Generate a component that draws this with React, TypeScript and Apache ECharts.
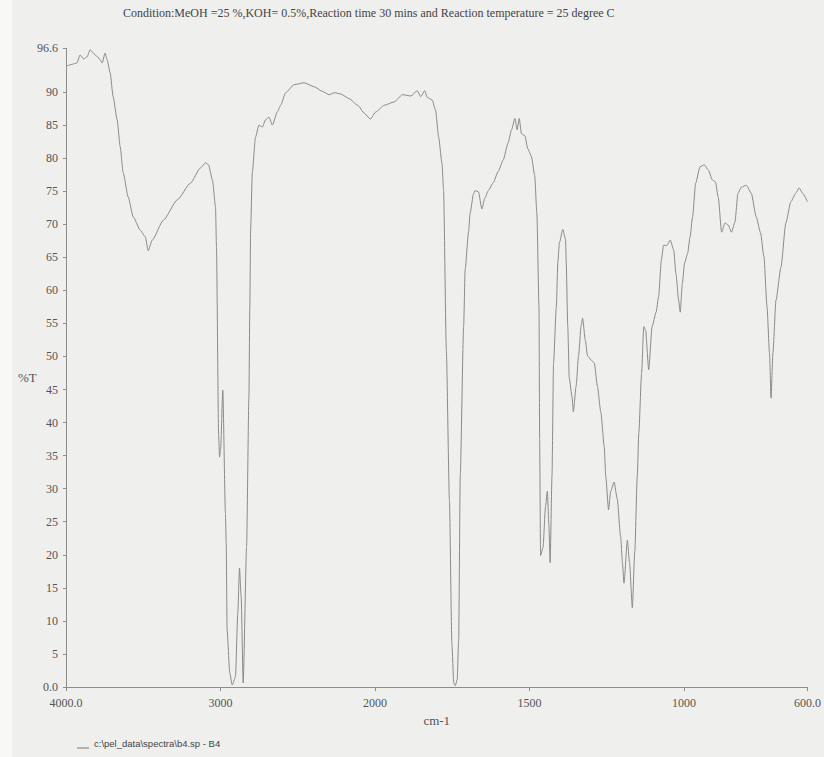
import React, { useEffect, useRef } from "react";
import * as echarts from "echarts";

// Wavenumber (cm-1) of each traced point
const wavenumbers = [
  4000, 3990, 3960, 3929, 3909, 3885, 3864, 3844, 3825, 3799, 3779, 3766, 3747, 3734, 3714, 3695, 3669, 3649, 3630,
  3597, 3565, 3519, 3487, 3468, 3442, 3370, 3279, 3195, 3130, 3097, 3078, 3052, 3032, 3026, 3012, 3006, 2999, 2985,
  2968, 2963, 2957, 2940, 2924, 2903, 2888, 2877, 2866, 2853, 2831, 2816, 2810, 2805, 2794, 2773, 2751, 2729, 2708,
  2686, 2664, 2632, 2610, 2578, 2524, 2459, 2394, 2340, 2297, 2264, 2221, 2167, 2112, 2069, 2030, 1997, 1970, 1938,
  1911, 1884, 1863, 1852, 1839, 1831, 1815, 1804, 1794, 1783, 1778, 1769, 1759, 1751, 1745, 1740, 1734, 1729, 1724,
  1713, 1708, 1697, 1692, 1681, 1676, 1665, 1654, 1644, 1633, 1617, 1601, 1585, 1569, 1558, 1547, 1540, 1533, 1526,
  1515, 1505, 1494, 1483, 1476, 1469, 1467, 1464, 1456, 1448, 1442, 1437, 1433, 1427, 1422, 1413, 1408, 1403, 1392,
  1383, 1381, 1376, 1371, 1362, 1358, 1349, 1341, 1333, 1328, 1319, 1312, 1301, 1290, 1280, 1269, 1258, 1253, 1244,
  1237, 1226, 1216, 1205, 1199, 1194, 1183, 1176, 1167, 1159, 1151, 1146, 1137, 1130, 1124, 1114, 1103, 1090, 1082,
  1073, 1066, 1055, 1044, 1033, 1026, 1017, 1012, 1005, 998, 988, 980, 972, 962, 948, 934, 921, 908, 898, 889, 878,
  867, 857, 846, 835, 825, 814, 798, 782, 766, 752, 741, 731, 723, 718, 712, 702, 686, 670, 654, 638, 627, 616, 600,
];

// Transmittance (%T) at each wavenumber
const transmittance = [
  94.0, 94.0, 94.2, 94.4, 95.6, 95.0, 95.3, 96.4, 95.9, 95.4, 94.9, 94.4, 95.9, 94.9, 92.9, 89.3, 85.8, 81.7, 77.8,
  74.1, 71.1, 69.1, 68.1, 66.0, 67.6, 70.6, 73.7, 76.2, 78.5, 79.3, 79.0, 76.7, 72.6, 66.6, 38.0, 34.8, 36.0, 44.9,
  26.3, 21.8, 8.6, 2.1, 0.3, 1.5, 11.2, 18.0, 13.6, 0.6, 21.2, 43.9, 57.5, 69.1, 77.8, 83.2, 85.0, 84.7, 85.8,
  86.2, 85.0, 87.0, 88.0, 89.9, 91.1, 91.4, 90.8, 90.1, 89.6, 89.9, 89.7, 89.0, 88.0, 86.8, 85.9, 87.0, 88.0, 88.5,
  89.6, 89.4, 90.2, 89.3, 90.2, 89.2, 88.8, 87.3, 83.2, 79.2, 75.2, 51.0, 28.3, 6.5, 0.6, 0.2, 1.1, 7.1, 31.9,
  54.6, 63.2, 68.9, 71.7, 74.6, 75.1, 74.9, 72.3, 74.0, 75.1, 76.3, 78.0, 79.7, 82.3, 84.3, 86.0, 84.3, 86.0, 83.7,
  83.4, 81.4, 80.3, 77.4, 71.7, 57.5, 37.6, 19.9, 21.1, 27.3, 29.6, 24.5, 18.8, 31.9, 49.0, 57.5, 64.3, 67.2, 69.2,
  67.7, 64.3, 54.6, 46.7, 43.8, 41.6, 45.5, 50.1, 54.6, 55.8, 52.4, 50.1, 49.5, 49.0, 45.5, 41.6, 36.4, 31.9, 26.8,
  29.6, 31.0, 28.5, 22.8, 18.8, 15.7, 22.2, 18.8, 12.0, 20.5, 31.9, 38.4, 47.5, 54.5, 54.0, 48.0, 54.5, 56.7, 59.0,
  64.6, 66.8, 66.8, 67.6, 66.1, 62.6, 58.5, 56.7, 61.1, 64.1, 65.6, 68.1, 71.1, 76.2, 78.7, 79.0, 78.2, 76.7, 76.4, 74.1, 68.8,
  70.2, 69.9, 68.8, 70.3, 74.7, 75.6, 75.9, 74.7, 71.1, 68.7, 65.1, 57.5, 50.5, 43.7, 50.5, 58.5, 63.5, 70.2, 73.4, 74.7, 75.5, 74.7, 73.4,
];

const xTickWavenumbers = [4000, 3000, 2000, 1500, 1000, 600];
const yTickValues = [0, 5, 10, 15, 20, 25, 30, 35, 40, 45, 50, 55, 60, 65, 70, 75, 80, 85, 90, 96.6];

const titleText =
  "Condition:MeOH =25 %,KOH= 0.5%,Reaction time 30 mins and Reaction temperature = 25 degree C";
const xAxisName = "cm-1";
const yAxisName = "%T";
const footnoteText = "c:\\pel_data\\spectra\\b4.sp - B4";

// The instrument's abscissa is expanded 2x below 2000 cm-1
function toAxis(w: number): number {
  return w >= 2000 ? 4000 - w : 2000 + 2 * (2000 - w);
}
function fromAxis(u: number): number {
  return u <= 2000 ? 4000 - u : 2000 - (u - 2000) / 2;
}

const SERIF = '"Liberation Serif", "Times New Roman", serif';
const SANS = '"Liberation Sans", Arial, sans-serif';

export default function App() {
  const ref = useRef<HTMLDivElement>(null);

  useEffect(() => {
    if (!ref.current) return;
    const chart = echarts.init(ref.current, undefined, { renderer: "svg" });
    const data = wavenumbers.map((w, i) => [toAxis(w), transmittance[i]]);
    const xTicks = xTickWavenumbers.map(toAxis);

    chart.setOption({
      animation: false,
      backgroundColor: "#efefed",
      grid: { left: 66, right: 14, top: 48.4, bottom: 70, containLabel: false },
      xAxis: {
        type: "value",
        min: 0,
        max: 4800,
        name: xAxisName,
        nameLocation: "middle",
        nameGap: 26,
        nameTextStyle: { fontFamily: SERIF, fontSize: 13, color: "#555" },
        axisLine: { show: true, onZero: false, lineStyle: { color: "#8c8c8c", width: 1 } },
        axisTick: { show: true, length: 4, customValues: xTicks, lineStyle: { color: "#8c8c8c" } },
        axisLabel: {
          customValues: xTicks,
          margin: 10,
          fontFamily: SERIF,
          fontSize: 12,
          color: "#555",
          formatter: (u: number) => {
            const w = Math.round(fromAxis(u));
            return w === 4000 || w === 600 ? w.toFixed(1) : String(w);
          },
        },
        splitLine: { show: false },
      },
      yAxis: {
        type: "value",
        min: 0,
        max: 96.6,
        axisLine: { show: true, onZero: false, lineStyle: { color: "#8c8c8c", width: 1 } },
        axisTick: { show: true, length: 3, customValues: yTickValues, lineStyle: { color: "#8c8c8c" } },
        axisLabel: {
          customValues: yTickValues,
          margin: 8,
          fontFamily: SERIF,
          fontSize: 12,
          color: "#555",
          padding: [0, 0, 7, 0],
          formatter: (v: number) => (v === 0 ? "0.0" : v === 96.6 ? "96.6" : String(v)),
        },
        splitLine: { show: false },
      },
      series: [
        {
          type: "line",
          data,
          symbol: "none",
          showSymbol: false,
          smooth: 0.2,
          smoothMonotone: "x",
          lineStyle: { color: "#8a8a8a", width: 1 },
        },
      ],
      graphic: [
        {
          type: "rect",
          shape: { x: 0, y: 0, width: 12, height: 757 },
          style: { fill: "#f8f8f7" },
          z: -10,
        },
        {
          type: "text",
          x: 123,
          y: 13,
          style: { text: titleText, font: `12px ${SERIF}`, fill: "#444", verticalAlign: "middle" },
        },
        {
          type: "text",
          x: 18,
          y: 377,
          style: { text: yAxisName, font: `13px ${SERIF}`, fill: "#555", verticalAlign: "middle" },
        },
        {
          type: "line",
          shape: { x1: 77, y1: 748, x2: 89, y2: 748 },
          style: { stroke: "#777", lineWidth: 1 },
        },
        {
          type: "text",
          x: 94,
          y: 743,
          style: { text: footnoteText, font: `9.5px ${SANS}`, fill: "#444", verticalAlign: "middle" },
        },
      ],
    });

    return () => chart.dispose();
  }, []);

  return (
    <div
      ref={ref}
      style={{ position: "fixed", left: 0, top: 0, width: 824, height: 757 }}
    />
  );
}
